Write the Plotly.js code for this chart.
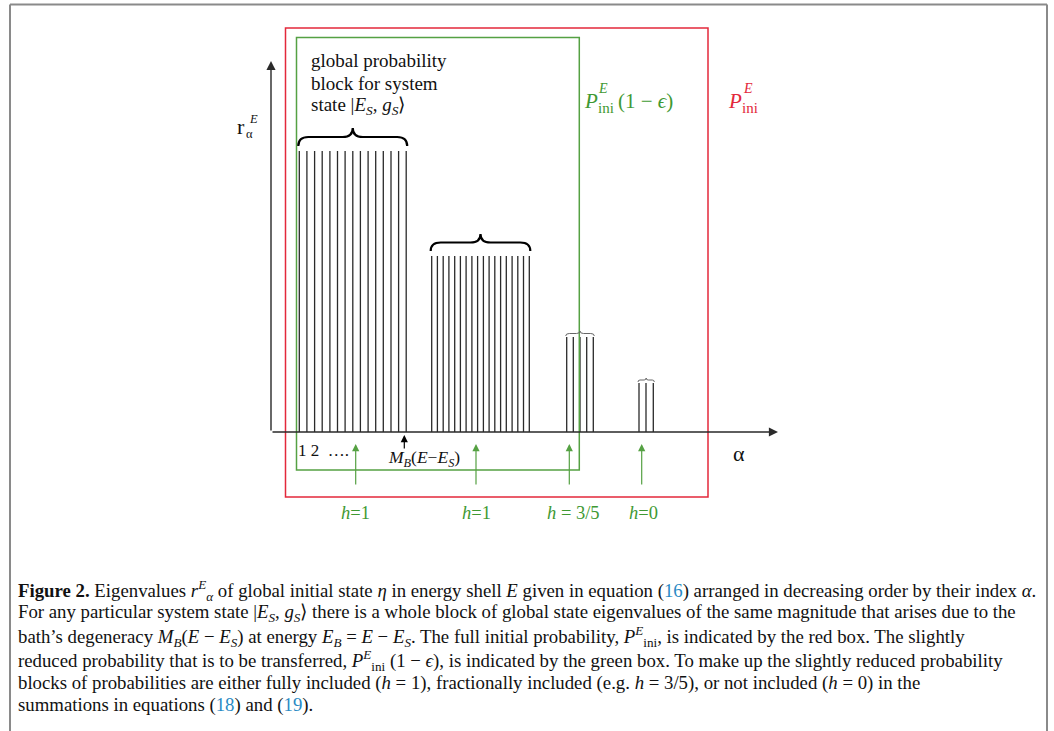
<!DOCTYPE html>
<html><head><meta charset="utf-8">
<script src="https://cdn.plot.ly/plotly-3.0.1.min.js"></script>
<style>body{margin:0;background:#fff}#chart{width:1054px;height:731px}</style>
</head><body><div id="chart"></div>
<script>
// ---- data (alpha index positions, eigenvalue magnitudes r) ----
const block1Alpha = [28.3,35.9,43.6,51.2,58.9,66.5,74.1,81.8,89.4,97.1,104.7,112.3,120.0,127.6,135.2];
const block2Alpha = [160.7,166.4,172.2,177.9,183.7,189.4,195.1,200.9,206.6,212.4,218.1,223.8,229.6,235.3,241.1,246.8,252.5,258.3];
const block3Alpha = [295.7,302.3,309.0,315.7,322.3];
const block4Alpha = [368.0,375.0,382.3];
const blockR = [2.81, 1.76, 0.95, 0.49];
const hLabels = ['1', '1', '3/5', '0'];
const hArrowAlpha = [84.7, 205.0, 298.3, 370.7];

// ---- layout helpers ----
const W = 1054, H = 731;
const px = x => x / W, py = y => 1 - y / H;
const SERIF = 'Liberation Serif, Times New Roman, serif';
const GREEN = '#55a143', GREEN_T = '#3f9933', RED = '#e3283b', INK = '#2a2a2a';

const blocks = [block1Alpha, block2Alpha, block3Alpha, block4Alpha];
const traces = blocks.map((xs, i) => ({
  type: 'bar', x: xs, y: xs.map(() => blockR[i]), width: 1.3,
  marker: {color: INK, line: {width: 0}}, hoverinfo: 'skip', showlegend: false
}));

function bracePath(xs, r, gap, h) {
  const x0 = xs[0] - 1, x1 = xs[xs.length - 1] + 1, yb = r + gap, ym = yb + h * 0.5, yt = yb + h;
  const xm = (x0 + x1) / 2, q = Math.min(10, (x1 - x0) / 8);
  return `M ${x0},${yb} Q ${x0},${ym} ${x0 + q},${ym} L ${xm - q},${ym} Q ${xm},${ym} ${xm},${yt} ` +
         `Q ${xm},${ym} ${xm + q},${ym} L ${x1 - q},${ym} Q ${x1},${ym} ${x1},${yb}`;
}

const shapes = [
  // page frame
  {type:'line', xref:'paper', yref:'paper', x0:px(10), x1:px(1047), y0:py(4.5), y1:py(4.5), line:{color:'#8a8a8a', width:2}},
  {type:'line', xref:'paper', yref:'paper', x0:px(10), x1:px(10), y0:py(4.5), y1:0, line:{color:'#8a8a8a', width:2}},
  {type:'line', xref:'paper', yref:'paper', x0:px(1047), x1:px(1047), y0:py(4.5), y1:0, line:{color:'#8a8a8a', width:2}},
  // red box (full initial probability)
  {type:'rect', xref:'x', yref:'y', x0:14.5, x1:437, y0:-0.65, y1:4.04, line:{color:RED, width:1.5}},
  // green box (reduced probability)
  {type:'rect', xref:'x', yref:'y', x0:25.5, x1:308.3, y0:-0.38, y1:3.945, line:{color:GREEN, width:1.5}},
  // braces
  {type:'path', xref:'x', yref:'y', path: bracePath(block1Alpha, blockR[0], 0.05, 0.18), line:{color:'#000', width:2.2}},
  {type:'path', xref:'x', yref:'y', path: bracePath(block2Alpha, blockR[1], 0.05, 0.17), line:{color:'#000', width:2.2}},
  {type:'path', xref:'x', yref:'y', path: bracePath(block3Alpha, blockR[2], 0.01, 0.05), line:{color:'#666', width:1}},
  {type:'path', xref:'x', yref:'y', path: bracePath(block4Alpha, blockR[3], 0.01, 0.04), line:{color:'#666', width:1}}
];

const ann = [];
function txt(x, y, text, size, opts) {
  ann.push(Object.assign({xref:'paper', yref:'paper', x:px(x), y:py(y), text, showarrow:false,
    xanchor:'left', yanchor:'middle', font:{family:SERIF, size, color:'#111'}}, opts || {}));
}
function arrow(x, y, ax, ay, color, w, size) {
  ann.push({xref:'x', yref:'y', axref:'x', ayref:'y', x, y, ax, ay, text:'', showarrow:true,
    arrowhead:2, arrowsize:size, arrowwidth:w, arrowcolor:color, standoff:0, startstandoff:0});
}
// axes with arrows
arrow(0, 3.71, 0, 0, INK, 1.4, 1.3);
arrow(507, 0, 0, 0, INK, 1.4, 1.3);
// M_B marker arrow
arrow(133.3, -0.03, 133.3, -0.18, '#000', 1.2, 1.2);
// h arrows
hArrowAlpha.forEach(a => arrow(a, -0.12, a, -0.54, GREEN, 1.2, 1.2));

// axis labels
txt(235, 127, 'r', 22);
txt(247, 119, '<i>E</i>', 12.5);
txt(243.5, 134, 'α', 12.5);
txt(731, 453, 'α', 22);
// block description
txt(308.5, 60, 'global probability', 19);
txt(308.5, 83, 'block for system', 19);
txt(308.5, 106, 'state |<i>E</i><sub><i>S</i></sub>, <i>g</i><sub><i>S</i></sub>⟩', 19);
// probability labels
txt(582, 101, '<i>P</i>', 21, {font:{family:SERIF, size:21, color:GREEN_T}});
txt(596, 88, '<i>E</i>', 14, {font:{family:SERIF, size:14, color:GREEN_T}});
txt(595.5, 108, 'ini', 15, {font:{family:SERIF, size:15, color:GREEN_T}});
txt(616, 101, '(1 − <i>ϵ</i>)', 21, {font:{family:SERIF, size:21, color:GREEN_T}});
txt(726, 101, '<i>P</i>', 21, {font:{family:SERIF, size:21, color:RED}});
txt(740.5, 88, '<i>E</i>', 14, {font:{family:SERIF, size:14, color:RED}});
txt(740, 108, 'ini', 15, {font:{family:SERIF, size:15, color:RED}});
// below axis
txt(296, 450, '1 2  ….', 17);
txt(424, 458, '<i>M</i><sub><i>B</i></sub>(<i>E</i>−<i>E</i><sub><i>S</i></sub>)', 17.5, {xanchor:'center'});
const hCenters = [355, 476, 573, 643];
hLabels.forEach((l, i) => txt(hCenters[i], 513, '<i>h</i>' + (l === '3/5' ? ' = ' : '=') + l, 18.5,
  {xanchor:'center', font:{family:SERIF, size:18.5, color:GREEN_T}}));

// caption
const B = s => `<span style="color:#2a8ac4">${s}</span>`;
const cap = [
  `<b>Figure 2.</b> Eigenvalues <i>r</i><sup><i>E</i></sup><sub><i>α</i></sub> of global initial state <i>η</i> in energy shell <i>E</i> given in equation (${B('16')}) arranged in decreasing order by their index <i>α</i>.`,
  `For any particular system state |<i>E</i><sub><i>S</i></sub>, <i>g</i><sub><i>S</i></sub>⟩ there is a whole block of global state eigenvalues of the same magnitude that arises due to the`,
  `bath’s degeneracy <i>M</i><sub><i>B</i></sub>(<i>E</i> − <i>E</i><sub><i>S</i></sub>) at energy <i>E</i><sub><i>B</i></sub> = <i>E</i> − <i>E</i><sub><i>S</i></sub>. The full initial probability, <i>P</i><sup><i>E</i></sup><sub>ini</sub>, is indicated by the red box. The slightly`,
  `reduced probability that is to be transferred, <i>P</i><sup><i>E</i></sup><sub>ini</sub> (1 − <i>ϵ</i>), is indicated by the green box. To make up the slightly reduced probability`,
  `blocks of probabilities are either fully included (<i>h</i> = 1), fractionally included (e.g. <i>h</i> = 3/5), or not included (<i>h</i> = 0) in the`,
  `summations in equations (${B('18')}) and (${B('19')}).`
];
const capY = [590, 613, 636, 660, 683, 705];
cap.forEach((t, i) => txt(15.5, capY[i], t, 18.8));

const layout = {
  width: W, height: H, margin: {l:0, r:0, t:0, b:0, pad:0},
  paper_bgcolor:'#fff', plot_bgcolor:'#fff',
  xaxis: {range:[-271, 783], visible:false, fixedrange:true},
  yaxis: {range:[-2.99, 4.32], visible:false, fixedrange:true},
  shapes, annotations: ann, showlegend:false, barmode:'overlay'
};
Plotly.newPlot('chart', traces, layout, {displayModeBar:false, staticPlot:true});
</script></body></html>
